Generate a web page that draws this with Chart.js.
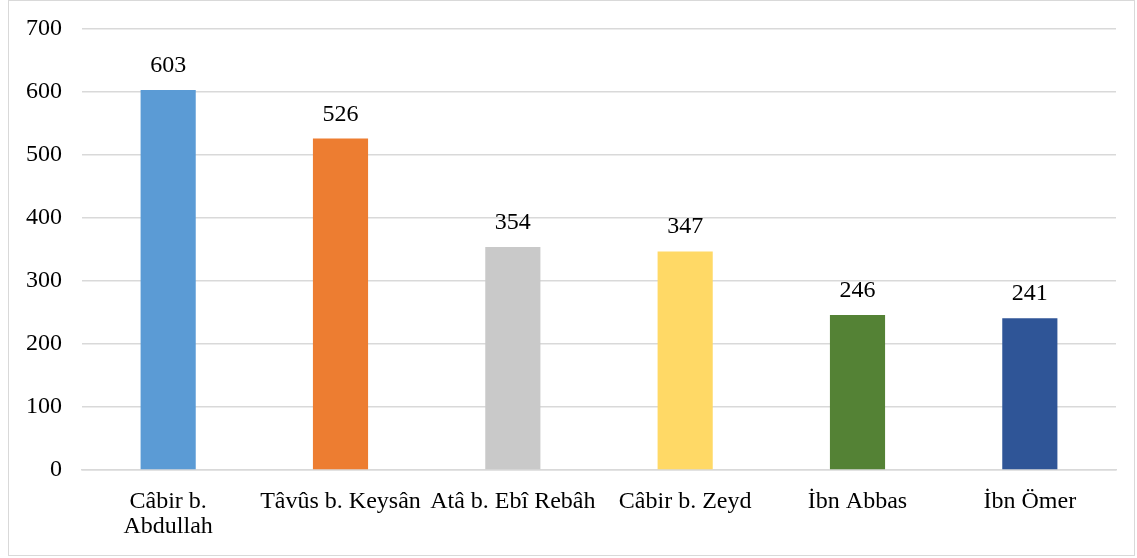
<!DOCTYPE html>
<html>
  <head>
    <meta charset="utf-8" />
    <title>Bar chart</title>
    <script src="https://cdn.jsdelivr.net/npm/chart.js"></script>
    <style>
      body {
        margin: 0;
        background: #fff;
      }
      #box {
        position: absolute;
        left: 8px;
        top: 0;
        width: 1125px;
        height: 554px;
        border: 1px solid #d9d9d9;
      }
    </style>
  </head>
  <body>
    <div id="box"><canvas id="myChart"></canvas></div>
    <script>
      const categories = [
        ["Câbir b.", "Abdullah"],
        "Tâvûs b. Keysân",
        "Atâ b. Ebî Rebâh",
        "Câbir b. Zeyd",
        "İbn Abbas",
        "İbn Ömer",
      ];
      const values = [603, 526, 354, 347, 246, 241];
      const barColors = ["#5B9BD5", "#ED7D31", "#C9C9C9", "#FFD966", "#548235", "#2F5597"];
      const yTicks = [0, 100, 200, 300, 400, 500, 600, 700];

      const font = { family: "'Liberation Serif', 'Times New Roman', serif", size: 24, lineHeight: 1.05 };

      // label angka di atas batang
      const valueLabels = {
        id: "valueLabels",
        afterDatasetsDraw(chart) {
          const c = chart.ctx;
          const meta = chart.getDatasetMeta(0);
          c.save();
          c.font = "24px " + font.family;
          c.fillStyle = "#000";
          c.textAlign = "center";
          c.textBaseline = "alphabetic";
          meta.data.forEach((bar, i) => {
            c.fillText(values[i], bar.x, bar.y - 18);
          });
          c.restore();
        },
      };

      const ctx = document.getElementById("myChart").getContext("2d");
      new Chart(ctx, {
        type: "bar",
        data: {
          labels: categories,
          datasets: [
            {
              data: values,
              backgroundColor: barColors,
              barPercentage: 0.32,
              categoryPercentage: 1,
            },
          ],
        },
        options: {
          responsive: true,
          maintainAspectRatio: false,
          animation: false,
          layout: { padding: { top: 28, right: 18, left: 0, bottom: 0 } },
          plugins: { legend: { display: false }, tooltip: { enabled: false } },
          scales: {
            y: {
              min: 0,
              max: 700,
              afterBuildTicks: (axis) => {
                axis.ticks = yTicks.map((v) => ({ value: v }));
              },
              afterFit: (axis) => {
                axis.width = 73;
                axis.paddingTop = 0;
                axis.paddingBottom = 0;
              },
              ticks: { color: "#000", font: font, padding: 20 },
              grid: { color: "#d9d9d9", lineWidth: 1.5, drawTicks: false },
              border: { display: false },
            },
            x: {
              afterFit: (axis) => {
                axis.height = 85;
                axis.paddingLeft = 0;
                axis.paddingRight = 0;
              },
              ticks: { color: "#000", font: font, padding: 11, maxRotation: 0, autoSkip: false },
              grid: { display: false },
              border: { color: "#d9d9d9", width: 1.5 },
            },
          },
        },
        plugins: [valueLabels],
      });
    </script>
  </body>
</html>
